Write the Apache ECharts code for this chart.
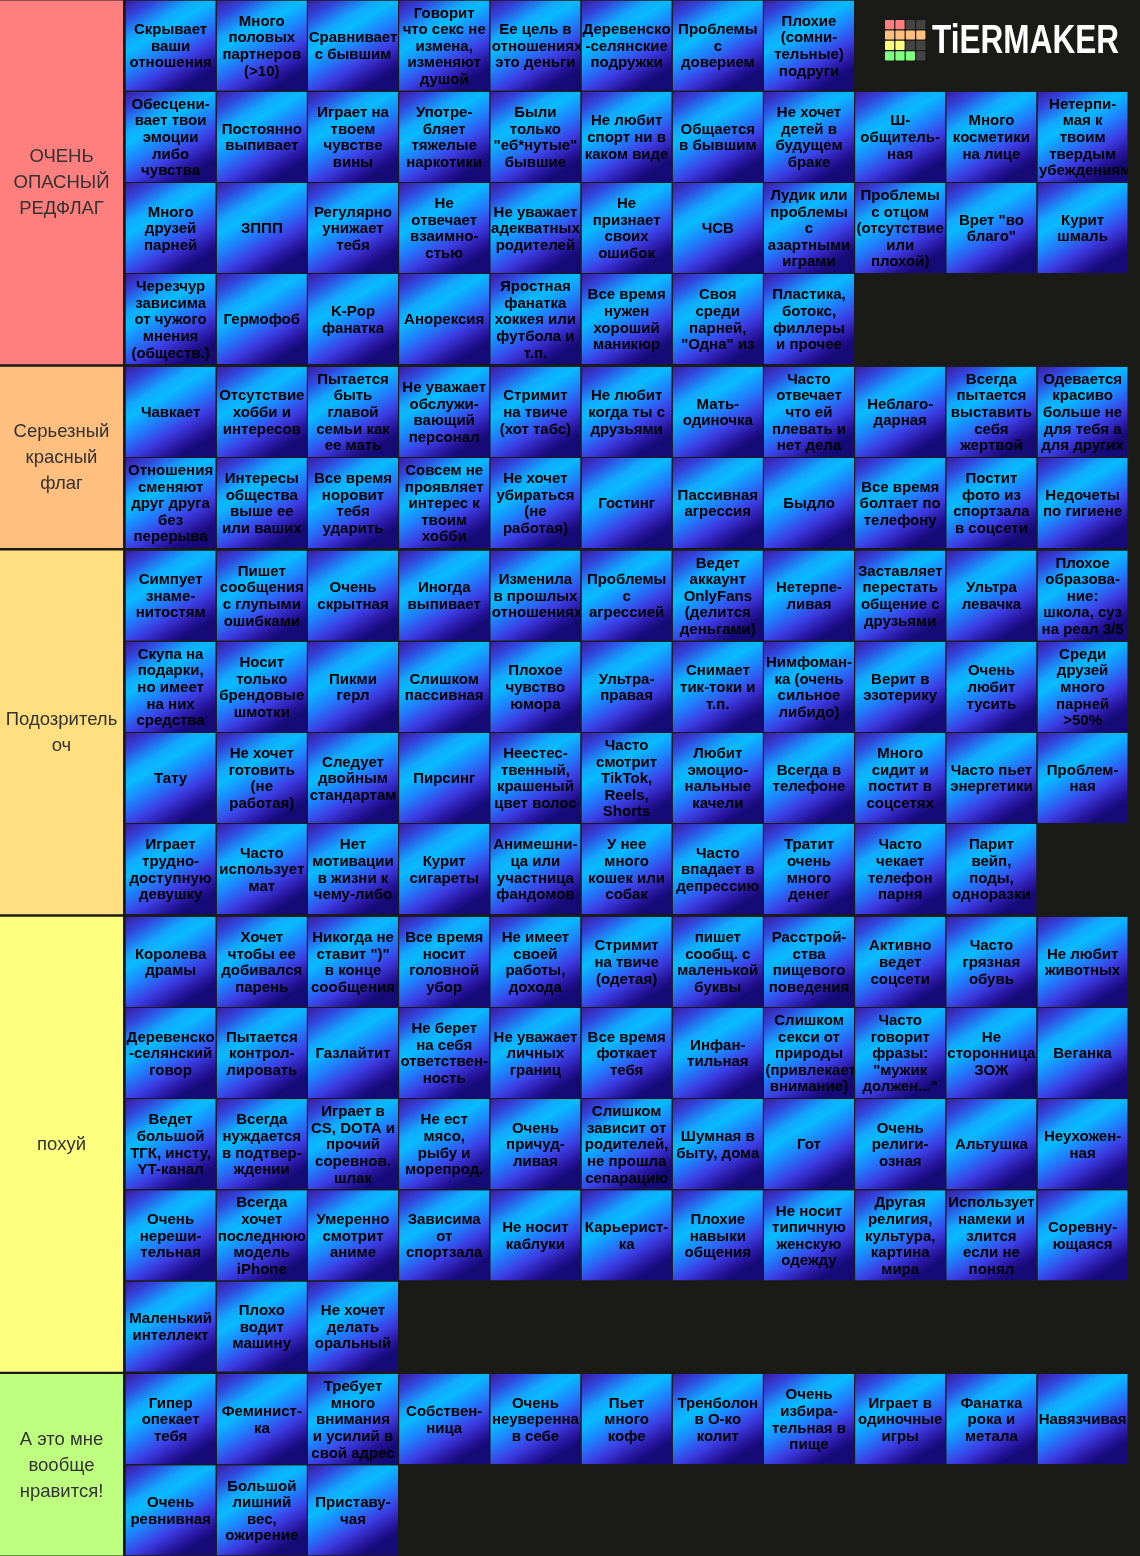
<!DOCTYPE html>
<html>
<head>
<meta charset="utf-8">
<script src="https://cdn.jsdelivr.net/npm/echarts@6/dist/echarts.min.js"></script>
<style>
html,body{margin:0;padding:0;background:#1a1a17;}
#chart{width:1140px;height:1556px;}
</style>
</head>
<body>
<div id="chart"></div>
<script>
// ---- data ----
const tierNames = ['ОЧЕНЬ\nОПАСНЫЙ\nРЕДФЛАГ', 'Серьезный\nкрасный\nфлаг', 'Подозритель\nоч', 'похуй', 'А это мне\nвообще\nнравится!'];
const tierColors = ['#ff7f7f', '#ffbf7f', '#ffdf7f', '#ffff7f', '#bfff7f'];

const tier1 = [
  ['Скрывает\nваши\nотношения', 'Много\nполовых\nпартнеров\n(>10)', 'Сравнивает\nс бывшим', 'Говорит\nчто секс не\nизмена,\nизменяют\nдушой', 'Ее цель в\nотношениях\nэто деньги', 'Деревенско\n-селянские\nподружки', 'Проблемы\nс\nдоверием', 'Плохие\n(сомни-\nтельные)\nподруги'],
  ['Обесцени-\nвает твои\nэмоции\nлибо\nчувства', 'Постоянно\nвыпивает', 'Играет на\nтвоем\nчувстве\nвины', 'Употре-\nбляет\nтяжелые\nнаркотики', 'Были\nтолько\n"еб*нутые"\nбывшие', 'Не любит\nспорт ни в\nкаком виде', 'Общается\nв бывшим', 'Не хочет\nдетей в\nбудущем\nбраке', 'Ш-\nобщитель-\nная', 'Много\nкосметики\nна лице', 'Нетерпи-\nмая к\nтвоим\nтвердым\nубеждениям'],
  ['Много\nдрузей\nпарней', 'ЗППП', 'Регулярно\nунижает\nтебя', 'Не\nотвечает\nвзаимно-\nстью', 'Не уважает\nадекватных\nродителей', 'Не\nпризнает\nсвоих\nошибок', 'ЧСВ', 'Лудик или\nпроблемы\nс\nазартными\nиграми', 'Проблемы\nс отцом\n(отсутствие\nили\nплохой)', 'Врет "во\nблаго"', 'Курит\nшмаль'],
  ['Черезчур\nзависима\nот чужого\nмнения\n(обществ.)', 'Гермофоб', 'K-Pop\nфанатка', 'Анорексия', 'Яростная\nфанатка\nхоккея или\nфутбола и\nт.п.', 'Все время\nнужен\nхороший\nманикюр', 'Своя\nсреди\nпарней,\n"Одна" из', 'Пластика,\nботокс,\nфиллеры\nи прочее']
];
const tier2 = [
  ['Чавкает', 'Отсутствие\nхобби и\nинтересов', 'Пытается\nбыть\nглавой\nсемьи как\nее мать', 'Не уважает\nобслужи-\nвающий\nперсонал', 'Стримит\nна твиче\n(хот табс)', 'Не любит\nкогда ты с\nдрузьями', 'Мать-\nодиночка', 'Часто\nотвечает\nчто ей\nплевать и\nнет дела', 'Неблаго-\nдарная', 'Всегда\nпытается\nвыставить\nсебя\nжертвой', 'Одевается\nкрасиво\nбольше не\nдля тебя а\nдля других'],
  ['Отношения\nсменяют\nдруг друга\nбез\nперерыва', 'Интересы\nобщества\nвыше ее\nили ваших', 'Все время\nноровит\nтебя\nударить', 'Совсем не\nпроявляет\nинтерес к\nтвоим\nхобби', 'Не хочет\nубираться\n(не\nработая)', 'Гостинг', 'Пассивная\nагрессия', 'Быдло', 'Все время\nболтает по\nтелефону', 'Постит\nфото из\nспортзала\nв соцсети', 'Недочеты\nпо гигиене']
];
const tier3 = [
  ['Симпует\nзнаме-\nнитостям', 'Пишет\nсообщения\nс глупыми\nошибками', 'Очень\nскрытная', 'Иногда\nвыпивает', 'Изменила\nв прошлых\nотношениях', 'Проблемы\nс\nагрессией', 'Ведет\nаккаунт\nOnlyFans\n(делится\nденьгами)', 'Нетерпе-\nливая', 'Заставляет\nперестать\nобщение с\nдрузьями', 'Ультра\nлевачка', 'Плохое\nобразова-\nние:\nшкола, суз\nна реал 3/5'],
  ['Скупа на\nподарки,\nно имеет\nна них\nсредства', 'Носит\nтолько\nбрендовые\nшмотки', 'Пикми\nгерл', 'Слишком\nпассивная', 'Плохое\nчувство\nюмора', 'Ультра-\nправая', 'Снимает\nтик-токи и\nт.п.', 'Нимфоман-\nка (очень\nсильное\nлибидо)', 'Верит в\nэзотерику', 'Очень\nлюбит\nтусить', 'Среди\nдрузей\nмного\nпарней\n>50%'],
  ['Тату', 'Не хочет\nготовить\n(не\nработая)', 'Следует\nдвойным\nстандартам', 'Пирсинг', 'Неестес-\nтвенный,\nкрашеный\nцвет волос', 'Часто\nсмотрит\nTikTok,\nReels,\nShorts', 'Любит\nэмоцио-\nнальные\nкачели', 'Всегда в\nтелефоне', 'Много\nсидит и\nпостит в\nсоцсетях', 'Часто пьет\nэнергетики', 'Проблем-\nная'],
  ['Играет\nтрудно-\nдоступную\nдевушку', 'Часто\nиспользует\nмат', 'Нет\nмотивации\nв жизни к\nчему-либо', 'Курит\nсигареты', 'Анимешни-\nца или\nучастница\nфандомов', 'У нее\nмного\nкошек или\nсобак', 'Часто\nвпадает в\nдепрессию', 'Тратит\nочень\nмного\nденег', 'Часто\nчекает\nтелефон\nпарня', 'Парит\nвейп,\nподы,\nодноразки']
];
const tier4 = [
  ['Королева\nдрамы', 'Хочет\nчтобы ее\nдобивался\nпарень', 'Никогда не\nставит ")"\nв конце\nсообщения', 'Все время\nносит\nголовной\nубор', 'Не имеет\nсвоей\nработы,\nдохода', 'Стримит\nна твиче\n(одетая)', 'пишет\nсообщ. с\nмаленькой\nбуквы', 'Расстрой-\nства\nпищевого\nповедения', 'Активно\nведет\nсоцсети', 'Часто\nгрязная\nобувь', 'Не любит\nживотных'],
  ['Деревенско\n-селянский\nговор', 'Пытается\nконтрол-\nлировать', 'Газлайтит', 'Не берет\nна себя\nответствен-\nность', 'Не уважает\nличных\nграниц', 'Все время\nфоткает\nтебя', 'Инфан-\nтильная', 'Слишком\nсекси от\nприроды\n(привлекает\nвнимание)', 'Часто\nговорит\nфразы:\n"мужик\nдолжен..."', 'Не\nсторонница\nЗОЖ', 'Веганка'],
  ['Ведет\nбольшой\nТГК, инсту,\nYT-канал', 'Всегда\nнуждается\nв подтвер-\nждении', 'Играет в\nCS, DOTA и\nпрочий\nсоревнов.\nшлак', 'Не ест\nмясо,\nрыбу и\nморепрод.', 'Очень\nпричуд-\nливая', 'Слишком\nзависит от\nродителей,\nне прошла\nсепарацию', 'Шумная в\nбыту, дома', 'Гот', 'Очень\nрелиги-\nозная', 'Альтушка', 'Неухожен-\nная'],
  ['Очень\nнереши-\nтельная', 'Всегда\nхочет\nпоследнюю\nмодель\niPhone', 'Умеренно\nсмотрит\nаниме', 'Зависима\nот\nспортзала', 'Не носит\nкаблуки', 'Карьерист-\nка', 'Плохие\nнавыки\nобщения', 'Не носит\nтипичную\nженскую\nодежду', 'Другая\nрелигия,\nкультура,\nкартина\nмира', 'Использует\nнамеки и\nзлится\nесли не\nпонял', 'Соревну-\nющаяся'],
  ['Маленький\nинтеллект', 'Плохо\nводит\nмашину', 'Не хочет\nделать\nоральный']
];
const tier5 = [
  ['Гипер\nопекает\nтебя', 'Феминист-\nка', 'Требует\nмного\nвнимания\nи усилий в\nсвой адрес', 'Собствен-\nница', 'Очень\nнеуверенна\nв себе', 'Пьет\nмного\nкофе', 'Тренболон\nв О-ко\nколит', 'Очень\nизбира-\nтельная в\nпище', 'Играет в\nодиночные\nигры', 'Фанатка\nрока и\nметала', 'Навязчивая'],
  ['Очень\nревнивная', 'Большой\nлишний\nвес,\nожирение', 'Приставу-\nчая']
];
const tiers = [tier1, tier2, tier3, tier4, tier5];

// ---- layout helpers ----
const PITCH = 91.2;
const GAP = 1.4 / PITCH;
const X_MIN = -125 / PITCH;
const X_MAX = X_MIN + 1140 / PITCH;
const CELL_FONT = 'bold 15px "Liberation Sans", Arial, sans-serif';
const CELL_LH = 16.6;

const measureCtx = document.createElement('canvas').getContext('2d');
measureCtx.font = CELL_FONT;
function textWidth(s) { return measureCtx.measureText(s).width; }

const cellData = [];
const labelData = [];
let rowStart = 0;
tiers.forEach(function (rows, t) {
  labelData.push({ value: [t, rowStart, rows.length], name: tierNames[t] });
  rows.forEach(function (r, ri) {
    r.forEach(function (txt, c) {
      cellData.push({ value: [c, rowStart + ri, t], name: txt });
    });
  });
  rowStart += rows.length;
});
const Y_MAX = rowStart + (tiers.length - 1) * GAP;

const cellGradient = {
  type: 'linear', x: 0, y: 0, x2: 0.6, y2: 1,
  colorStops: [
    { offset: 0, color: '#3c1c9e' },
    { offset: 0.15, color: '#3246de' },
    { offset: 0.33, color: '#12a8ff' },
    { offset: 0.43, color: '#08bbff' },
    { offset: 0.58, color: '#1c86ff' },
    { offset: 0.76, color: '#3c3ee4' },
    { offset: 0.92, color: '#26139a' },
    { offset: 1, color: '#160a76' }
  ]
};

function renderCell(params, api) {
  const col = api.value(0), row = api.value(1), t = api.value(2);
  const y0 = row + t * GAP;
  const p0 = api.coord([col, y0]);
  const p1 = api.coord([col + 1, y0 + 1]);
  const x = p0[0] + 0.5, y = p0[1] + 0.5;
  const w = p1[0] - p0[0] - 1, h = p1[1] - p0[1] - 1;
  const lines = cellData[params.dataIndex].name.split('\n');
  const n = lines.length;
  const cy = y + h / 2 + 1;
  const children = [
    { type: 'rect', shape: { x: x, y: y, width: w, height: h }, style: { fill: cellGradient } }
  ];
  lines.forEach(function (ln, i) {
    const wide = textWidth(ln) > w - 1;
    children.push({
      type: 'text',
      x: wide ? x + 1.5 : x + w / 2,
      y: cy + (i - (n - 1) / 2) * CELL_LH,
      style: {
        text: ln,
        fill: '#000',
        font: CELL_FONT,
        align: wide ? 'left' : 'center',
        verticalAlign: 'middle'
      }
    });
  });
  return {
    type: 'group',
    clipPath: { type: 'rect', shape: { x: x, y: y, width: w, height: h } },
    children: children
  };
}

function renderLabel(params, api) {
  const t = api.value(0), start = api.value(1), n = api.value(2);
  const y0 = start + t * GAP;
  const p0 = api.coord([X_MIN, y0]);
  const p1 = api.coord([0, y0 + n]);
  const x = p0[0], y = p0[1] + 0.5;
  const w = p1[0] - p0[0] - 2, h = p1[1] - p0[1] - 1;
  return {
    type: 'group',
    children: [
      { type: 'rect', shape: { x: x, y: y, width: w, height: h }, style: { fill: tierColors[t] } },
      {
        type: 'text', x: x + w / 2, y: y + h / 2 + 1,
        style: {
          text: labelData[params.dataIndex].name,
          fill: '#333333',
          font: '18.5px "Liberation Sans", Arial, sans-serif',
          lineHeight: 26,
          align: 'center',
          verticalAlign: 'middle'
        }
      }
    ]
  };
}

// logo
const logoColors = [
  ['#ff7f7f', '#ff7f7f', '#444444', '#444444'],
  ['#ffbf7f', '#ffbf7f', '#ffbf7f', '#ffbf7f'],
  ['#ffff7f', '#ffff7f', '#444444', '#444444'],
  ['#7fff7f', '#7fff7f', '#7fff7f', '#444444']
];
const logoSquares = [];
logoColors.forEach(function (r, ri) {
  r.forEach(function (c, ci) {
    logoSquares.push({
      type: 'rect',
      shape: { x: ci * 10.4, y: ri * 10.4, width: 9.2, height: 9.2, r: 1 },
      style: { fill: c }
    });
  });
});

const chart = echarts.init(document.getElementById('chart'), null, { renderer: 'canvas' });
chart.setOption({
  backgroundColor: '#1a1a17',
  animation: false,
  grid: { left: 0, right: 0, top: 0, bottom: 0 },
  xAxis: { type: 'value', min: X_MIN, max: X_MAX, show: false },
  yAxis: { type: 'value', min: 0, max: Y_MAX, inverse: true, show: false },
  graphic: [
    { type: 'group', left: 885, top: 20, children: logoSquares },
    {
      type: 'text', x: 932, y: 42, scaleX: 0.77,
      style: {
        text: 'TiERMAKER', fill: '#ffffff',
        font: 'bold 41px "Liberation Sans", Arial, sans-serif',
        align: 'left', verticalAlign: 'middle'
      }
    }
  ],
  series: [
    { type: 'custom', coordinateSystem: 'cartesian2d', renderItem: renderLabel, data: labelData, silent: true, clip: false },
    { type: 'custom', coordinateSystem: 'cartesian2d', renderItem: renderCell, data: cellData, silent: true, clip: false }
  ]
});
</script>
</body>
</html>
